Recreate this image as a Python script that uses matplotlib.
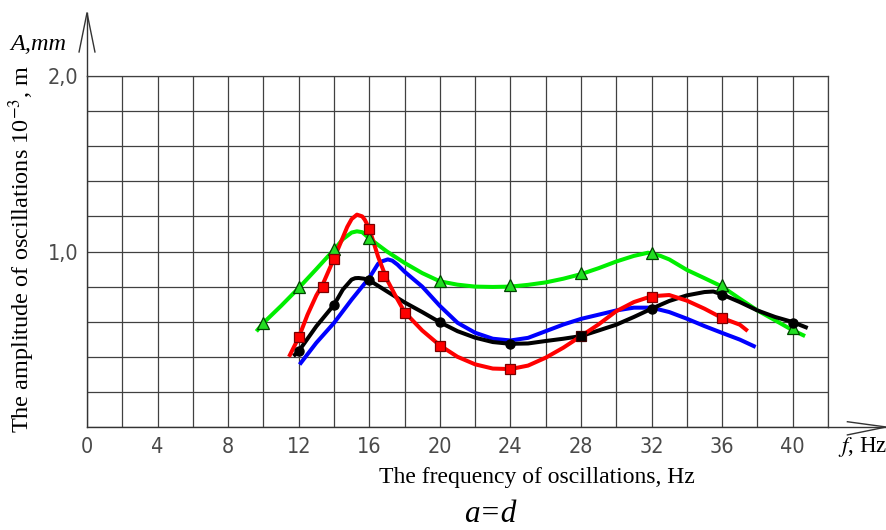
import numpy as np
import matplotlib
matplotlib.use("Agg")
import matplotlib.pyplot as plt

plt.rcParams['mathtext.fontset'] = 'stix'

# ---- curves (f in Hz, A in mm) ----
red_f = [11.45, 11.7, 12, 12.5, 13, 13.35, 14, 14.5, 14.75, 15, 15.3, 15.6, 15.75, 16,
         16.5, 17, 17.5, 18, 19, 20, 21, 22, 23, 24, 25, 26, 27, 28, 29, 30, 31, 32,
         33, 34, 35, 36, 37, 37.45]
red_A = [0.40, 0.45, 0.51, 0.64, 0.75, 0.81, 0.96, 1.08, 1.14, 1.185, 1.21, 1.20, 1.18, 1.13,
         0.97, 0.84, 0.745, 0.655, 0.55, 0.465, 0.40, 0.357, 0.333, 0.33, 0.35, 0.395, 0.452,
         0.518, 0.585, 0.66, 0.712, 0.745, 0.752, 0.72, 0.674, 0.621, 0.583, 0.547]

green_f = [9.6, 10, 11, 12, 13, 14, 14.5, 15, 15.3, 15.6, 16, 17, 18, 19, 20, 21, 22, 23, 24,
           25, 26, 27, 28, 29, 30, 31, 31.8, 32.5, 33, 34, 35, 36, 37, 38, 39, 40, 40.7]
green_A = [0.545, 0.593, 0.69, 0.792, 0.90, 1.01, 1.07, 1.108, 1.115, 1.11, 1.075, 1.0, 0.935,
           0.877, 0.83, 0.811, 0.80, 0.798, 0.80, 0.81, 0.824, 0.845, 0.871, 0.905, 0.943,
           0.975, 0.993, 0.975, 0.955, 0.895, 0.848, 0.80, 0.731, 0.664, 0.608, 0.551, 0.518]

blue_f = [12.05, 13, 14, 15, 16, 16.5, 16.75, 17.05, 17.3, 17.6, 18, 19, 20, 21, 22, 23, 24,
          25, 26, 27, 28, 29, 30, 31, 32, 33, 34, 35, 36, 37, 37.9]
blue_A = [0.356, 0.48, 0.593, 0.726, 0.85, 0.93, 0.945, 0.955, 0.948, 0.925, 0.885, 0.80,
          0.69, 0.594, 0.537, 0.503, 0.493, 0.508, 0.546, 0.584, 0.616, 0.64, 0.664, 0.68,
          0.68, 0.655, 0.617, 0.575, 0.536, 0.498, 0.456]

black_f = [11.7, 12, 13, 14, 14.5, 15, 15.2, 15.4, 15.7, 16, 17, 18, 19, 20, 21, 22, 23, 24,
           25, 26, 27, 28, 29, 30, 31, 32, 33, 34, 35, 35.5, 36, 37, 38, 39, 40, 40.85]
black_A = [0.404, 0.432, 0.574, 0.696, 0.783, 0.84, 0.848, 0.849, 0.845, 0.836, 0.773, 0.71,
           0.655, 0.597, 0.546, 0.509, 0.484, 0.474, 0.476, 0.49, 0.503, 0.518, 0.55, 0.583,
           0.627, 0.674, 0.718, 0.75, 0.769, 0.772, 0.755, 0.712, 0.664, 0.627, 0.598, 0.564]

# ---- measured points (markers) ----
red_pts_f = [12, 13.35, 14, 16, 16.8, 18, 20, 24, 32, 36]
red_pts_A = [0.51, 0.80, 0.957, 1.128, 0.863, 0.652, 0.463, 0.331, 0.742, 0.619]
sq_black_f = [28]
sq_black_A = [0.517]
black_pts_f = [12, 14, 16, 20, 24, 32, 36, 40]
black_pts_A = [0.432, 0.694, 0.837, 0.597, 0.473, 0.672, 0.751, 0.594]
green_pts_f = [10, 12, 14, 16, 20, 24, 28, 32, 36, 40]
green_pts_A = [0.59, 0.797, 1.012, 1.075, 0.834, 0.808, 0.877, 0.99, 0.808, 0.562]

x_ticks = np.arange(0, 43, 2)
x_labels = [str(v) if v % 4 == 0 and v <= 40 else '' for v in x_ticks]
y_ticks = np.round(np.arange(0, 2.01, 0.2), 1)
y_labels = {1.0: '1,0', 2.0: '2,0'}

W, H = 887, 530
fig = plt.figure(figsize=(W / 100, H / 100), dpi=100)
ax = fig.add_axes([87 / W, 103 / H, 741 / W, 351 / H])
ax.set_xlim(0, 42)
ax.set_ylim(0, 2)

grid_c = '#404040'
ax.set_xticks(x_ticks)
ax.set_xticklabels(x_labels)
ax.set_yticks(y_ticks)
ax.set_yticklabels([y_labels.get(v, '') for v in y_ticks])
ax.grid(True, color=grid_c, lw=0.9)
ax.tick_params(length=0, labelsize=15.5, pad=7)
ax.tick_params(axis='y', pad=6)
for lab in ax.get_xticklabels() + ax.get_yticklabels():
    lab.set_fontstretch('condensed')
    lab.set_color('#4a4a4a')
for s in ['top', 'right']:
    ax.spines[s].set_color(grid_c)
    ax.spines[s].set_linewidth(0.9)
for s in ['left', 'bottom']:
    ax.spines[s].set_color('#333333')
    ax.spines[s].set_linewidth(1.0)

# curves
lw = 2.9
ax.plot(green_f, green_A, color='#00ee00', lw=lw, solid_capstyle='butt', zorder=3)
ax.plot(blue_f, blue_A, color='#0000ff', lw=lw, solid_capstyle='butt', zorder=3)
ax.plot(black_f, black_A, color='#000000', lw=lw, solid_capstyle='butt', zorder=3)
ax.plot(red_f, red_A, color='#ff0000', lw=lw, solid_capstyle='butt', zorder=4)

# markers
ax.plot(green_pts_f, green_pts_A, ls='none', marker='^', ms=8.5, mfc='#22dd22',
        mec='#004400', mew=0.9, zorder=5)
ax.plot(black_pts_f, black_pts_A, ls='none', marker='o', ms=6.5, mfc='black',
        mec='black', zorder=5)
ax.plot(red_pts_f, red_pts_A, ls='none', marker='s', ms=7, mfc='#ff0000',
        mec='#7a0000', mew=0.9, zorder=6)
ax.plot(sq_black_f, sq_black_A, ls='none', marker='s', ms=7, mfc='#000000',
        mec='#3a0000', mew=0.9, zorder=6)

# axis arrows
ax.plot([0, 0], [2.0, 2.36], color='#333333', lw=1.0, clip_on=False)
ax.plot([-0.45, 0, 0.45], [2.137, 2.36, 2.137], color='#333333', lw=1.0, clip_on=False)
ax.plot([42, 45.3], [0, 0], color='#333333', lw=1.0, clip_on=False)
ax.plot([43.1, 45.3, 43.1], [0.03, 0, -0.045], color='#333333', lw=1.0, clip_on=False)

serif = 'Liberation Serif'
fig.text(38 / W, 1 - 45 / H, 'A,mm', family=serif, style='italic', fontsize=17.5,
         ha='center', va='center')
fig.text(863 / W, 1 - 447 / H, '$f$, Hz', family=serif, fontsize=16.5, ha='center', va='center')
fig.text(537 / W, 1 - 478 / H, 'The frequency of oscillations, Hz', family=serif,
         fontsize=17, ha='center', va='center')
fig.text(22 / W, 1 - 249 / H, 'The amplitude of oscillations 10$^{-3}$, m', family=serif,
         fontsize=17.5, rotation=90, ha='center', va='center')
fig.text(490 / W, 1 - 514 / H, 'a=d', family=serif, style='italic', fontsize=22.5,
         ha='center', va='center')

fig.savefig('out.png', dpi=100)
